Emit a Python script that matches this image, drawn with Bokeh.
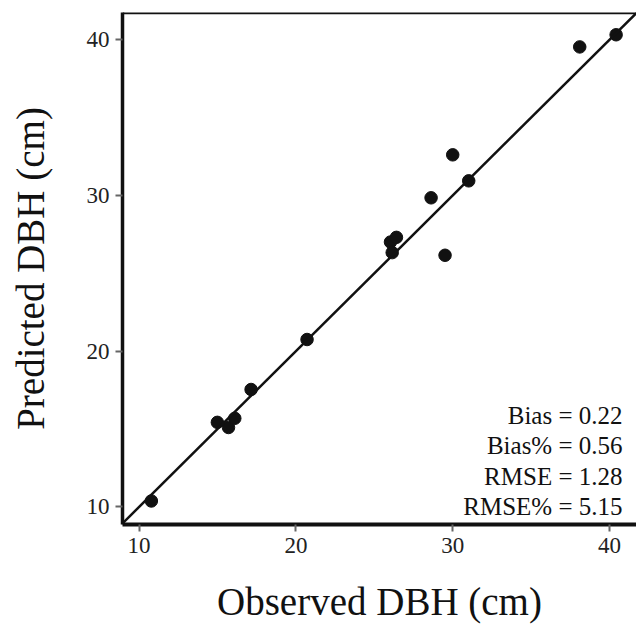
from bokeh.plotting import figure
from bokeh.models import Range1d, Slope, Span, ColumnDataSource, FixedTicker
from bokeh.core.properties import value
from bokeh.embed import file_html
from bokeh.resources import INLINE

observed = [10.78, 14.99, 15.70, 16.10, 17.14, 20.71, 26.03, 26.14, 26.41, 28.62, 29.51, 30.0, 31.02, 38.10, 40.42]
predicted = [10.38, 15.43, 15.10, 15.69, 17.54, 20.75, 27.01, 26.33, 27.31, 29.85, 26.16, 32.61, 30.94, 39.54, 40.32]
ticks = [10, 20, 30, 40]
stats = ["Bias = 0.22", "Bias% = 0.56", "RMSE = 1.28", "RMSE% = 5.15"]

FONT = "Liberation Serif"
X0, X1 = 8.94, 41.72
Y0, Y1 = 8.87, 41.75

p = figure(width=636, height=625, output_backend="svg", toolbar_location=None,
           x_range=Range1d(X0, X1), y_range=Range1d(Y0, Y1),
           min_border_left=122, min_border_right=0, min_border_top=12, min_border_bottom=96)
p.outline_line_color = None
p.xgrid.grid_line_color = None
p.ygrid.grid_line_color = None
p.background_fill_color = "white"
p.border_fill_color = "white"

for ax in (p.xaxis[0], p.yaxis[0]):
    ax.ticker = FixedTicker(ticks=ticks)
    ax.minor_tick_line_color = None
    ax.axis_line_color = "#111111"
    ax.major_tick_line_color = "#666666"
    ax.major_tick_line_width = 2
    ax.major_tick_out = 7
    ax.major_tick_in = 0
    ax.major_label_text_font = FONT
    ax.major_label_text_font_size = "23px"
    ax.major_label_text_color = "#222222"
    ax.axis_label_text_font = FONT
    ax.axis_label_text_font_size = "39px"
    ax.axis_label_text_font_style = "normal"
    ax.axis_label_text_color = "#111111"

p.xaxis.axis_line_width = 4
p.yaxis.axis_line_width = 3.5
p.xaxis.axis_label = "Observed DBH (cm)"
p.yaxis.axis_label = "Predicted DBH (cm)"
p.xaxis.major_label_standoff = 6
p.yaxis.major_label_standoff = 6
p.xaxis.axis_label_standoff = 24
p.yaxis.axis_label_standoff = 32

p.add_layout(Span(location=Y1, dimension="width", line_color="#111111", line_width=3.5))
p.add_layout(Slope(gradient=1, y_intercept=0, line_color="#111111", line_width=2.5))

src = ColumnDataSource(dict(x=observed, y=predicted))
p.scatter("x", "y", source=src, size=12.5, fill_color="#111111", line_color="#111111")

step = 1.945
stat_src = ColumnDataSource(dict(
    x=[40.83] * len(stats),
    y=[15.86 - i * step for i in range(len(stats))],
    t=stats))
p.text("x", "y", text="t", source=stat_src, text_align="right", text_baseline="alphabetic",
       text_font=value(FONT), text_font_size="25px", text_color="#111111")

open("out.html", "w").write(file_html(p, INLINE))
